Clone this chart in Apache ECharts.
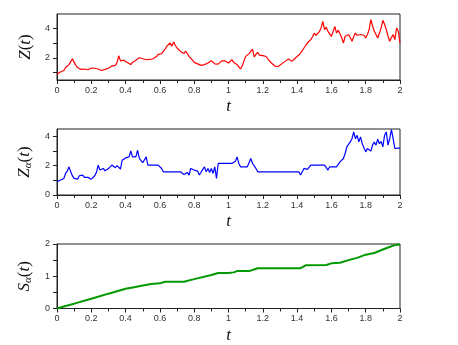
<!DOCTYPE html>
<html>
<head>
<meta charset="utf-8">
<script src="https://cdn.jsdelivr.net/npm/echarts@6/dist/echarts.min.js"></script>
<style>
  html, body { margin: 0; padding: 0; background: #fff; }
  #chart { width: 458px; height: 345px; }
</style>
</head>
<body>
<div id="chart"></div>
<script>
// time step of the sampled paths
const dt = 0.01;

// Z(t), sampled every 0.01 on [0, 2]
const zValues = [
  0.90, 0.95, 1.05, 1.00, 1.15, 1.35, 1.45, 1.55, 1.75, 1.95,
  1.70, 1.50, 1.35, 1.30, 1.22, 1.15, 1.25, 1.28, 1.20, 1.30,
  1.32, 1.25, 1.30, 1.22, 1.25, 1.18, 1.15, 1.12, 1.22, 1.28,
  1.30, 1.40, 1.45, 1.55, 1.50, 1.68, 2.15, 1.80, 1.72, 1.85,
  1.80, 1.70, 1.75, 1.55, 1.70, 1.78, 1.85, 1.95, 2.02, 1.90,
  1.95, 2.05, 1.88, 1.82, 1.90, 2.02, 1.95, 1.88, 2.10, 2.25,
  2.35, 2.30, 2.45, 2.60, 2.80, 2.70, 3.02, 2.80, 3.10, 2.85,
  2.68, 2.55, 2.45, 2.40, 2.30, 2.48, 2.30, 2.11, 2.00, 1.85,
  1.70, 1.65, 1.60, 1.55, 1.50, 1.48, 1.55, 1.60, 1.66, 1.75,
  1.82, 1.70, 1.60, 1.50, 1.58, 1.66, 1.80, 1.89, 1.80, 1.72,
  1.66, 1.75, 1.89, 1.70, 1.62, 1.55, 1.40, 1.25, 1.45, 1.80,
  2.11, 2.20, 2.30, 2.45, 2.61, 2.07, 2.25, 2.39, 2.20, 2.28,
  2.16, 2.05, 2.10, 1.93, 1.80, 1.66, 1.55, 1.45, 1.39, 1.42,
  1.48, 1.60, 1.70, 1.77, 1.85, 1.93, 1.85, 1.77, 1.90, 2.00,
  2.11, 2.20, 2.34, 2.50, 2.68, 2.85, 3.02, 3.10, 3.25, 3.45,
  3.70, 3.55, 3.48, 3.80, 4.05, 4.50, 3.93, 4.10, 3.82, 3.70,
  3.48, 3.80, 4.16, 3.70, 3.90, 3.82, 3.40, 3.02, 3.48, 3.40,
  3.59, 3.40, 3.14, 3.45, 3.70, 3.55, 3.48, 3.60, 3.70, 3.55,
  3.36, 3.60, 3.93, 4.61, 4.20, 3.82, 3.60, 3.36, 3.70, 4.05,
  4.57, 4.30, 3.93, 3.50, 3.14, 3.40, 3.59, 3.25, 4.05, 3.82,
  3.02
];

// Z_alpha(t), sampled every 0.01 on [0, 2]
const zAlphaValues = [
  0.90, 0.95, 1.02, 1.05, 1.13, 1.47, 1.63, 1.92, 1.58, 1.30,
  1.13, 1.20, 1.08, 1.31, 1.25, 1.36, 1.20, 1.20, 1.20, 1.20,
  1.08, 1.20, 1.31, 1.55, 2.04, 1.70, 1.75, 1.81, 1.65, 1.58,
  1.80, 1.70, 2.04, 1.95, 1.86, 2.00, 2.04, 1.77, 2.37, 2.26,
  2.53, 2.50, 2.60, 3.00, 2.60, 2.60, 2.60, 3.05, 2.49, 2.40,
  2.20, 2.15, 2.60, 2.04, 2.04, 2.04, 2.04, 2.04, 2.04, 2.04,
  1.92, 1.81, 1.58, 1.58, 1.58, 1.58, 1.58, 1.58, 1.58, 1.58,
  1.58, 1.58, 1.58, 1.58, 1.40, 1.50, 1.54, 1.36, 1.81, 1.75,
  1.70, 1.72, 1.63, 1.36, 1.55, 1.75, 1.92, 1.58, 1.81, 1.54,
  1.81, 1.47, 1.92, 1.13, 2.15, 2.15, 2.15, 2.15, 2.15, 2.15,
  2.15, 2.15, 2.15, 2.04, 2.30, 2.60, 2.15, 1.92, 1.92, 1.92,
  1.92, 1.92, 1.92, 2.49, 2.15, 2.26, 1.81, 1.58, 1.58, 1.58,
  1.58, 1.58, 1.58, 1.58, 1.58, 1.58, 1.58, 1.58, 1.58, 1.58,
  1.58, 1.58, 1.58, 1.58, 1.58, 1.58, 1.58, 1.58, 1.58, 1.58,
  1.58, 1.58, 1.36, 1.47, 1.81, 1.75, 1.75, 1.75, 2.04, 2.04,
  2.04, 2.04, 2.04, 2.04, 2.04, 2.04, 2.04, 2.04, 1.70, 1.92,
  1.92, 1.92, 1.92, 1.92, 1.92, 2.26, 2.15, 2.49, 2.83, 3.28,
  3.17, 3.62, 3.84, 4.30, 3.84, 4.07, 3.62, 3.96, 3.50, 3.62,
  2.94, 3.17, 3.28, 2.99, 3.40, 3.62, 3.40, 3.80, 3.50, 3.66,
  3.28, 4.07, 4.30, 3.40, 3.84, 4.45, 3.84, 3.17, 3.17, 3.20,
  3.20
];

// S_alpha(t), read at its breakpoints
const sAlphaT = [0, 0.05, 0.1, 0.2, 0.3, 0.4, 0.45, 0.5, 0.55, 0.6, 0.63, 0.74, 0.8, 0.9, 0.94, 1.0,
  1.03, 1.05, 1.12, 1.17, 1.42, 1.45, 1.57, 1.6, 1.65, 1.7, 1.75, 1.8, 1.85, 1.9, 1.95, 1.98, 2.0];
const sAlphaValues = [0, 0.08, 0.15, 0.30, 0.46, 0.61, 0.66, 0.71, 0.76, 0.78, 0.83, 0.83, 0.91, 1.04, 1.10, 1.10,
  1.12, 1.16, 1.16, 1.25, 1.25, 1.34, 1.35, 1.40, 1.42, 1.50, 1.57, 1.67, 1.72, 1.83, 1.93, 1.98, 1.98];

// axis tick labels
const xTicks = [0, 0.2, 0.4, 0.6, 0.8, 1, 1.2, 1.4, 1.6, 1.8, 2];
const yLabels1 = [2, 4];
const yTicks1 = [1, 2, 3, 4];
const yLabels2 = [0, 2, 4];
const yTicks2 = [0, 1, 2, 3, 4];
const yLabels3 = [0, 1, 2];
const yTicks3 = [0, 0.5, 1, 1.5, 2];

const zPts = zValues.map((v, i) => [i * dt, v]);
const zaPts = zAlphaValues.map((v, i) => [i * dt, v]);
const saPts = sAlphaT.map((t, i) => [t, sAlphaValues[i]]);

const axisCol = '#222';
const labelStyle = { fontSize: 9, color: '#333', fontFamily: 'Liberation Sans, Arial, sans-serif' };
const nameRich = {
  i: { fontFamily: 'Liberation Serif, serif', fontStyle: 'italic', fontSize: 17, color: '#111', lineHeight: 20 },
  n: { fontFamily: 'Liberation Serif, serif', fontSize: 17, color: '#111', lineHeight: 20 },
  s: { fontFamily: 'Liberation Serif, serif', fontStyle: 'italic', fontSize: 11, color: '#111', verticalAlign: 'bottom', lineHeight: 20 }
};

function makeGrid(top) {
  return { left: 57, top: top, width: 343, height: 66, show: true, borderColor: axisCol, borderWidth: 1, backgroundColor: 'transparent' };
}

function makeX(idx) {
  return {
    type: 'value', gridIndex: idx, min: 0, max: 2, interval: 0.2,
    name: '{i|t}', nameLocation: 'middle', nameGap: 17,
    nameTextStyle: { rich: nameRich },
    axisLine: { show: true, lineStyle: { color: axisCol } },
    axisTick: { show: true, length: 4, lineStyle: { color: axisCol } },
    minorTick: { show: true, splitNumber: 2, length: 3, lineStyle: { color: axisCol } },
    splitLine: { show: false },
    axisLabel: Object.assign({ margin: 6, customValues: xTicks }, labelStyle)
  };
}

function makeY(idx, min, max, labels, ticks, name) {
  return {
    type: 'value', gridIndex: idx, min: min, max: max,
    name: name, nameLocation: 'middle', nameGap: 14, nameRotate: 90,
    nameTextStyle: { rich: nameRich },
    axisLine: { show: true, lineStyle: { color: axisCol } },
    axisTick: { show: true, length: 4, customValues: ticks, lineStyle: { color: axisCol } },
    splitLine: { show: false },
    axisLabel: Object.assign({ margin: 7, customValues: labels }, labelStyle)
  };
}

const chart = echarts.init(document.getElementById('chart'), null, { renderer: 'canvas' });
chart.setOption({
  animation: false,
  backgroundColor: '#fff',
  grid: [makeGrid(14), makeGrid(129), makeGrid(244)],
  xAxis: [makeX(0), makeX(1), makeX(2)],
  yAxis: [
    makeY(0, 0.5, 5, yLabels1, yTicks1, '{i|Z}{n|(}{i|t}{n|)}'),
    makeY(1, 0, 4.5, yLabels2, yTicks2, '{i|Z}{s|α}{n|(}{i|t}{n|)}'),
    makeY(2, 0, 2, yLabels3, yTicks3, '{i|S}{s|α}{n|(}{i|t}{n|)}')
  ],
  series: [
    { type: 'line', xAxisIndex: 0, yAxisIndex: 0, data: zPts, showSymbol: false,
      lineStyle: { color: '#ff0000', width: 1.2 } },
    { type: 'line', xAxisIndex: 1, yAxisIndex: 1, data: zaPts, showSymbol: false,
      lineStyle: { color: '#0000ff', width: 1.2 } },
    { type: 'line', xAxisIndex: 2, yAxisIndex: 2, data: saPts, showSymbol: false,
      lineStyle: { color: '#009900', width: 2 } }
  ]
});
</script>
</body>
</html>
